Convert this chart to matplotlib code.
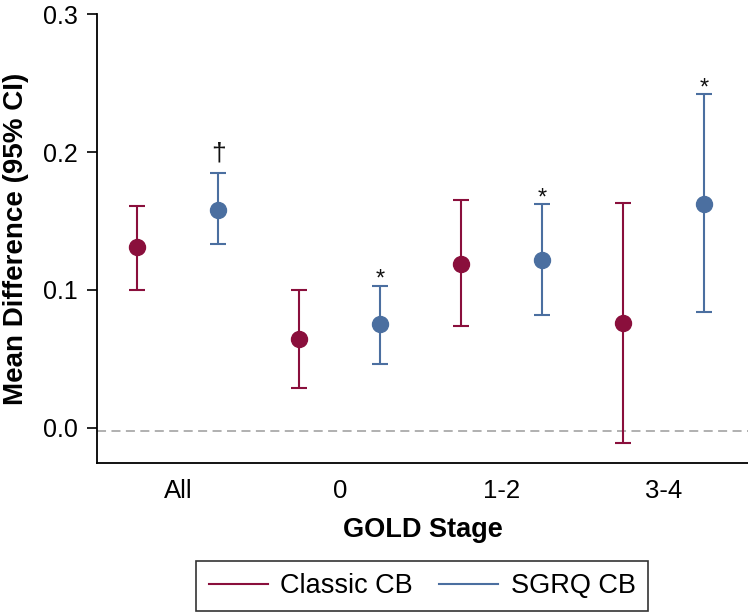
import matplotlib
matplotlib.use('Agg')
import numpy as np
import matplotlib.pyplot as plt
from matplotlib.lines import Line2D

plt.rcParams['font.family'] = ['Liberation Sans', 'DejaVu Sans']

# --- data ---
stages = ['All', '0', '1-2', '3-4']
classic_mean = [0.131, 0.064, 0.119, 0.076]
classic_lo = [0.100, 0.029, 0.0735, -0.011]
classic_hi = [0.161, 0.100, 0.165, 0.163]
sgrq_mean = [0.158, 0.075, 0.122, 0.162]
sgrq_lo = [0.133, 0.046, 0.082, 0.084]
sgrq_hi = [0.185, 0.103, 0.162, 0.242]
sgrq_marks = ['\u2020', '*', '*', '*']

C_CLASSIC = '#8A0F3C'
C_SGRQ = '#4B6FA0'

fig = plt.figure(figsize=(7.48, 6.14), dpi=100)
ax = fig.add_axes([97 / 748, 1 - 462.7 / 614, 651 / 748, (462.7 - 14.3) / 614])

x = np.arange(len(stages))
off = 0.25

def draw(xpos, mean, lo, hi, col, label):
    mean = np.array(mean)
    err = [mean - np.array(lo), np.array(hi) - mean]
    ax.errorbar(xpos, mean, yerr=err, fmt='o', color=col, ecolor=col, ms=11.5,
                elinewidth=1.5, capsize=5.5, capthick=1.5, label=label, zorder=3)

draw(x - off, classic_mean, classic_lo, classic_hi, C_CLASSIC, 'Classic CB')
draw(x + off, sgrq_mean, sgrq_lo, sgrq_hi, C_SGRQ, 'SGRQ CB')

# significance marks above the SGRQ intervals
for xi, top, m in zip(x + off, sgrq_hi, sgrq_marks):
    if m == '\u2020':
        ax.annotate(m, (xi, top), xytext=(0, 9), textcoords='offset points',
                    ha='center', va='baseline', fontsize=19, color='#111111')
    else:
        ax.annotate(m, (xi, top), xytext=(0, 0), textcoords='offset points',
                    ha='center', va='baseline', fontsize=17, color='#111111')

ax.axhline(-0.0024, color='#AAAAAA', lw=1.3, ls=(0, (5, 3)), zorder=1)

ax.set_xlim(-0.5, 3.52)
ax.set_ylim(-0.0255, 0.3)
ax.set_yticks([0.0, 0.1, 0.2, 0.3])
ax.set_yticklabels(['0.0', '0.1', '0.2', '0.3'])
ax.set_xticks(x)
ax.set_xticklabels(stages)
ax.tick_params(axis='y', labelsize=18, length=7, width=1.2, pad=7)
ax.tick_params(axis='x', labelsize=18.5, length=0, pad=12)
for s in ['top', 'right']:
    ax.spines[s].set_visible(False)
for s in ['left', 'bottom']:
    ax.spines[s].set_linewidth(1.3)

ax.set_ylabel('Mean Difference (95% CI)', fontsize=20, fontweight='bold', labelpad=10)
ax.set_xlabel('GOLD Stage', fontsize=19.5, fontweight='bold', labelpad=10)

handles = [Line2D([], [], color=C_CLASSIC, lw=1.5), Line2D([], [], color=C_SGRQ, lw=1.5)]
leg = fig.legend(handles, ['Classic CB', 'SGRQ CB'], loc='center', ncol=2,
                 bbox_to_anchor=(422 / 748, 1 - 586 / 614), fontsize=19.5,
                 frameon=True, fancybox=False, edgecolor='black',
                 handlelength=2.2, handletextpad=0.45, columnspacing=0.95,
                 borderpad=0.45)
leg.get_frame().set_linewidth(1.2)

fig.savefig('out.png', dpi=100)
